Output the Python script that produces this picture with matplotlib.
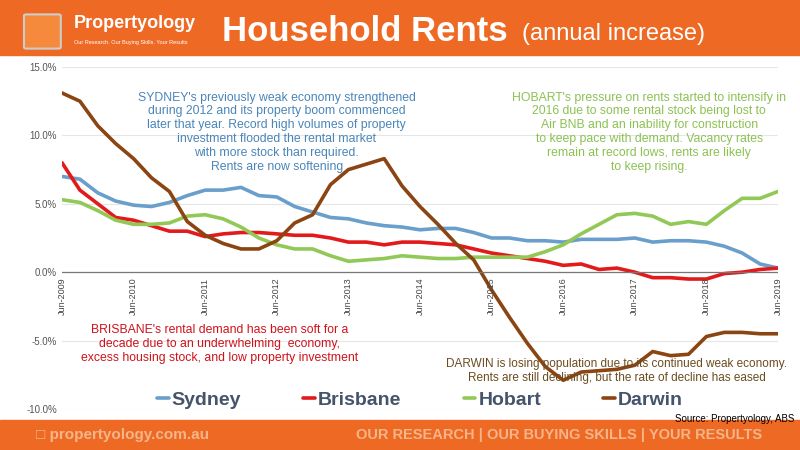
import matplotlib
matplotlib.use("Agg")
import matplotlib.pyplot as plt
from matplotlib.patches import Rectangle, FancyBboxPatch

plt.rcParams["font.family"] = ["Liberation Sans", "DejaVu Sans"]

# quarterly, Jun-2009 .. Jun-2019
years = list(range(2009, 2020))
sydney = [7.0, 6.8, 5.8, 5.2, 4.9, 4.8, 5.1, 5.6, 6.0, 6.0, 6.2, 5.6, 5.5, 4.8, 4.4, 4.0,
          3.9, 3.6, 3.4, 3.3, 3.1, 3.2, 3.2, 2.9, 2.5, 2.5, 2.3, 2.3, 2.2, 2.4, 2.4, 2.4,
          2.5, 2.2, 2.3, 2.3, 2.2, 1.9, 1.4, 0.6, 0.3]
brisbane = [8.0, 6.0, 5.0, 4.0, 3.8, 3.4, 3.0, 3.0, 2.6, 2.8, 2.9, 2.9, 2.8, 2.7, 2.7, 2.5,
            2.2, 2.2, 2.0, 2.2, 2.2, 2.1, 2.0, 1.7, 1.4, 1.2, 1.0, 0.8, 0.5, 0.6, 0.2, 0.3,
            0.0, -0.4, -0.4, -0.5, -0.5, -0.1, 0.0, 0.2, 0.3]
hobart = [5.3, 5.1, 4.5, 3.8, 3.5, 3.5, 3.6, 4.1, 4.2, 3.9, 3.3, 2.5, 2.0, 1.7, 1.7, 1.2,
          0.8, 0.9, 1.0, 1.2, 1.1, 1.0, 1.0, 1.1, 1.1, 1.1, 1.1, 1.5, 2.0, 2.8, 3.5, 4.2,
          4.3, 4.1, 3.5, 3.7, 3.5, 4.5, 5.4, 5.4, 5.9]
darwin = [13.1, 12.5, 10.7, 9.4, 8.3, 6.9, 5.9, 3.7, 2.7, 2.1, 1.7, 1.7, 2.3, 3.6, 4.2, 6.4,
          7.5, 7.9, 8.3, 6.3, 4.8, 3.5, 2.1, 0.9, -1.3, -3.3, -5.2, -6.9, -7.9, -7.3, -7.2,
          -7.1, -6.8, -5.8, -6.1, -6.0, -4.7, -4.4, -4.4, -4.5, -4.5]

series = [("Sydney", sydney, "#6a9fcb"), ("Brisbane", brisbane, "#e31a1c"),
          ("Hobart", hobart, "#92c856"), ("Darwin", darwin, "#8b4513")]

ORANGE = "#ee6a24"
fig = plt.figure(figsize=(8, 4.5), dpi=100)

# header / footer bands
fig.patches.append(Rectangle((0, 1 - 55 / 450), 1, 55 / 450, transform=fig.transFigure,
                             color=ORANGE, zorder=0))
fig.patches.append(Rectangle((0, 0), 1, 30 / 450, transform=fig.transFigure,
                             color=ORANGE, zorder=0))
fig.patches.append(FancyBboxPatch((0.033, 0.895), 0.04, 0.07, boxstyle="round,pad=0.003",
                                  transform=fig.transFigure, fc="#f58a3c", ec="#cccccc", lw=1.5))
fig.text(0.092, 0.947, "Propertyology", color="white", fontsize=13, fontweight="bold",
         va="center")
fig.text(0.092, 0.905, "Our Research. Our Buying Skills. Your Results", color="white",
         fontsize=4, va="center")
fig.text(0.278, 0.93, "Household Rents", color="white", fontsize=25, fontweight="bold",
         va="center")
fig.text(0.652, 0.925, "(annual increase)", color="white", fontsize=17, va="center")
fig.text(0.045, 0.033, "\u25a1 propertyology.com.au", color="#f5b58a", fontsize=11,
         fontweight="bold", va="center")
fig.text(0.953, 0.033, "OUR RESEARCH | OUR BUYING SKILLS | YOUR RESULTS", color="#f5b58a",
         fontsize=10.5, fontweight="bold", va="center", ha="right")

ax = fig.add_axes([62 / 800, 1 - 409 / 450, (778 - 62) / 800, (409 - 67) / 450])
x = [2009 + i * 0.25 for i in range(41)]
for name, vals, col in series:
    ax.plot(x, vals, color=col, lw=2.6, label=name, solid_capstyle="round")

ax.set_xlim(2009, 2019)
ax.set_ylim(-10, 15)
ax.set_yticks([-10, -5, 0, 5, 10, 15])
ax.set_yticklabels(["%.1f%%" % v for v in [-10, -5, 0, 5, 10, 15]], fontsize=7,
                   color="#555555")
ax.set_xticks([])
ax.tick_params(axis="y", length=0)
for s in ax.spines.values():
    s.set_visible(False)
ax.grid(axis="y", color="#e6e6e6", lw=0.8)
ax.axhline(0, color="#777777", lw=0.9)
for y in years:
    ax.text(y, -0.4, "Jun-%d" % y, rotation=90, ha="center", va="top", fontsize=6.5,
            color="#444444")

fs = 8.8
ax.text(2012.0, 13.2, "SYDNEY's previously weak economy strengthened\nduring 2012 and its property "
        "boom commenced\nlater that year. Record high volumes of property\ninvestment flooded "
        "the rental market\nwith more stock than required.\nRents are now softening",
        color="#4a85b9", fontsize=fs, ha="center", va="top", linespacing=1.2)
ax.text(2017.2, 13.2, "HOBART's pressure on rents started to intensify in\n2016 due to some rental "
        "stock being lost to\nAir BNB and an inability for construction\nto keep pace with demand. "
        "Vacancy rates\nremain at record lows, rents are likely\nto keep rising.",
        color="#8cc152", fontsize=fs, ha="center", va="top", linespacing=1.2)
ax.text(2011.2, -3.8, "BRISBANE's rental demand has been soft for a\ndecade due to an underwhelming  "
        "economy,\nexcess housing stock, and low property investment",
        color="#d0121b", fontsize=fs, ha="center", va="top", linespacing=1.2)
ax.text(2016.75, -6.3, "DARWIN is losing population due to its continued weak economy.\nRents are "
        "still declining, but the rate of decline has eased",
        color="#6b4c1e", fontsize=8.5, ha="center", va="top", linespacing=1.2)

leg = ax.legend(loc="lower center", bbox_to_anchor=(0.5, -0.05), ncol=4, frameon=False,
                handlelength=0.6, handletextpad=0.15, columnspacing=3.2,
                prop={"size": 14, "weight": "bold"})
for t in leg.get_texts():
    t.set_color("#44546a")

fig.text(0.993, 0.07, "Source: Propertyology, ABS", fontsize=7, ha="right", va="center")

fig.savefig("out.png", dpi=100)
